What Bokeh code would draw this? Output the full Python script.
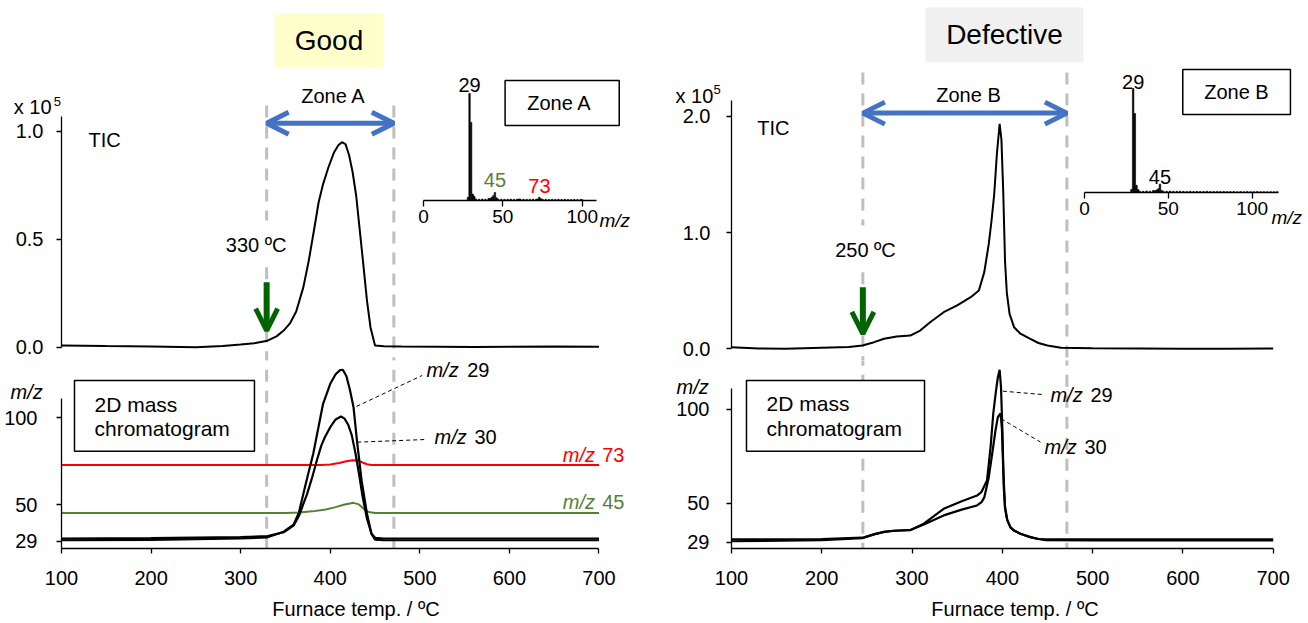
from bokeh.plotting import figure
from bokeh.models import (Range1d, FixedTicker, PrintfTickFormatter, Label, BoxAnnotation,
                          Arrow, OpenHead, GridBox)
from bokeh.embed import file_html
from bokeh.resources import INLINE

FONT = "Liberation Sans"
BLUE = "#4472C4"
DKGREEN = "#006400"
DASHC = "#BFBFBF"
RED = "#FF0000"
OLIVE = "#548235"

# ---------------- data: Good sample (left) ----------------
good_tic_temp = [100, 150, 200, 250, 280, 300, 315, 330, 340, 348, 355, 362, 370, 376, 382, 387, 392, 398,
                 404, 409, 413, 417, 421, 425, 429, 433, 437, 441, 445, 450, 460, 480, 520, 560, 600, 650, 700]
good_tic = [0.008, 0.005, 0.003, 0.0, 0.005, 0.012, 0.018, 0.030, 0.050, 0.077, 0.110, 0.165, 0.278, 0.400,
            0.545, 0.670, 0.755, 0.833, 0.900, 0.935, 0.949, 0.940, 0.890, 0.810, 0.700, 0.540, 0.380, 0.216,
            0.090, 0.008, 0.004, 0.003, 0.002, 0.001, 0.002, 0.003, 0.002]

good_mz29_temp = [100, 200, 300, 330, 348, 359, 365, 370, 375, 381, 387, 392, 400, 406, 411, 414, 418, 422,
                  426, 430, 435, 441, 446, 450, 460, 500, 600, 700]
good_mz29 = [29.6, 29.8, 30.6, 31.3, 34.5, 38.5, 45.5, 56.3, 67.0, 79.3, 95.0, 108.0, 119.5, 125.0, 127.4,
             127.6, 124.0, 116.0, 106.0, 86.0, 64.0, 44.8, 33.3, 30.0, 29.6, 29.6, 29.6, 29.6]

good_mz30_temp = [100, 200, 300, 330, 348, 359, 365, 370, 374, 380, 385, 390, 394, 400, 406, 412, 416, 420,
                  424, 428, 432, 436, 441, 446, 450, 460, 500, 600, 700]
good_mz30 = [30.6, 30.8, 31.4, 32.0, 34.2, 38.0, 43.5, 50.5, 56.0, 66.0, 75.4, 84.0, 88.8, 94.6, 99.0, 100.7,
             99.5, 96.0, 90.0, 80.0, 68.0, 55.0, 42.0, 33.5, 31.0, 30.6, 30.6, 30.6, 30.6]

good_mz73_temp = [100, 390, 400, 410, 418, 425, 431, 436, 441, 446, 700]
good_mz73 = [72.8, 72.8, 73.1, 74.0, 75.0, 75.6, 75.4, 74.3, 73.3, 72.8, 72.8]

good_mz45_temp = [100, 350, 365, 380, 395, 405, 415, 426, 432, 437, 443, 450, 700]
good_mz45 = [45.2, 45.2, 45.5, 46.2, 47.3, 48.5, 50.0, 51.1, 50.2, 47.8, 45.8, 45.2, 45.2]

good_ms_mz = [28, 29, 30, 31, 32, 33, 35, 37, 39, 41, 42, 43, 44, 45, 46, 47, 49, 51, 53, 55, 57, 59, 60, 61,
              63, 65, 67, 69, 71, 72, 73, 74, 75, 77, 79, 81, 83, 85, 87, 89, 91, 93, 95, 97, 99, 100]
good_ms_int = [0.03, 1.0, 0.73, 0.06, 0.04, 0.015, 0.012, 0.014, 0.012, 0.018, 0.02, 0.03, 0.045, 0.075,
               0.025, 0.014, 0.012, 0.011, 0.012, 0.013, 0.011, 0.012, 0.015, 0.013, 0.012, 0.011, 0.012,
               0.013, 0.012, 0.015, 0.03, 0.016, 0.012, 0.011, 0.01, 0.011, 0.01, 0.012, 0.01, 0.011, 0.01,
               0.009, 0.01, 0.009, 0.01, 0.008]

# ---------------- data: Defective sample (right) ----------------
bad_tic_temp = [100, 130, 160, 200, 230, 245, 258, 269, 283, 298, 309, 320, 335, 350, 365, 374, 380, 385, 388,
                391, 394, 397, 399, 401, 403, 405, 408, 413, 420, 431, 440, 450, 465, 500, 550, 600, 650, 700]
bad_tic = [0.014, 0.002, 0.0, 0.009, 0.015, 0.028, 0.057, 0.086, 0.106, 0.114, 0.157, 0.229, 0.315, 0.373,
           0.444, 0.502, 0.660, 0.904, 1.100, 1.330, 1.680, 1.936, 1.800, 1.350, 0.750, 0.480, 0.300, 0.186,
           0.130, 0.086, 0.050, 0.028, 0.009, 0.005, 0.003, 0.0, 0.0, 0.003]

bad_mz29_temp = [100, 200, 245, 258, 269, 280, 298, 313, 335, 355, 372, 377, 383, 387, 390, 393, 395, 397,
                 398.5, 400, 401.6, 403, 405.4, 409, 413, 420, 431, 440, 448, 500, 600, 700]
bad_mz29 = [29.6, 30.2, 31.2, 33.2, 34.6, 35.2, 35.5, 39.0, 46.9, 51.0, 54.0, 56.0, 62.0, 80.0, 98.0, 110.0,
            117.0, 121.1, 112.0, 90.0, 58.0, 47.0, 41.0, 37.0, 35.3, 33.6, 31.8, 30.8, 30.2, 30.0, 30.0, 30.0]

bad_mz30_temp = [100, 200, 245, 258, 269, 280, 298, 313, 335, 355, 372, 377, 380, 385, 389, 392.4, 395, 398,
                 399.5, 401, 403, 405.4, 409, 413, 420, 431, 440, 448, 500, 600, 700]
bad_mz30 = [30.6, 30.8, 31.5, 33.4, 34.6, 35.2, 35.6, 38.5, 43.4, 46.5, 48.7, 50.5, 53.0, 63.8, 77.0, 88.7,
            95.8, 97.9, 90.0, 68.0, 48.0, 41.0, 37.0, 35.3, 33.6, 31.8, 30.8, 30.6, 30.6, 30.6, 30.6]

bad_ms_mz = [28, 29, 30, 31, 32, 33, 35, 37, 39, 41, 42, 43, 44, 45, 46, 47, 49, 51, 53, 55, 57, 59, 61, 63,
             65, 67, 69, 71, 73, 75, 77, 79, 81, 83, 85, 87, 89, 91, 93, 95, 97, 99, 101, 103, 105, 107, 109,
             111, 113, 115]
bad_ms_int = [0.03, 1.0, 0.76, 0.07, 0.03, 0.012, 0.012, 0.015, 0.013, 0.02, 0.018, 0.025, 0.035, 0.08, 0.02,
              0.013, 0.012, 0.014, 0.011, 0.012, 0.012, 0.011, 0.01, 0.012, 0.01, 0.011, 0.01, 0.01, 0.012,
              0.01, 0.009, 0.01, 0.009, 0.01, 0.009, 0.009, 0.01, 0.008, 0.009, 0.008, 0.009, 0.008, 0.008,
              0.009, 0.008, 0.008, 0.007, 0.008, 0.007, 0.008]

temp_ticks = [100, 200, 300, 400, 500, 600, 700]
mz_ticks = [29, 50, 100]
ms_ticks = [0, 50, 100]


# ---------------- helpers ----------------
def base_fig(w, h, xr, yr, mbl, mbr, mbt, mbb, xloc="below", yloc="left"):
    p = figure(width=w, height=h, x_range=xr, y_range=yr, output_backend="svg",
               toolbar_location=None, x_axis_location=xloc, y_axis_location=yloc,
               min_border_left=mbl, min_border_right=mbr, min_border_top=mbt, min_border_bottom=mbb)
    p.grid.visible = False
    p.outline_line_color = None
    p.background_fill_alpha = 0
    p.border_fill_alpha = 0
    return p


def style_axis(axes, size="20px", standoff=12, tick_out=5):
    for ax in axes:
        ax.axis_line_color = "black"
        ax.axis_line_width = 1.3
        ax.major_tick_line_color = "black"
        ax.major_tick_line_width = 1.3
        ax.major_tick_out = tick_out
        ax.major_tick_in = 0
        ax.minor_tick_line_color = None
        ax.major_label_text_font = FONT
        ax.major_label_text_font_size = size
        ax.major_label_text_color = "black"
        ax.major_label_standoff = standoff


def label(p, x, y, text, size="20px", align="left", color="black", style="normal"):
    p.add_layout(Label(x=x, y=y, text=text, text_font=FONT, text_font_size=size,
                       text_align=align, text_baseline="middle", text_color=color,
                       text_font_style=style))


def box(p, l, r, t, b, fill, line="black"):
    p.add_layout(BoxAnnotation(left=l, right=r, top=t, bottom=b, fill_color=fill, fill_alpha=1.0,
                               line_color=line, line_width=1.5, line_alpha=1.0 if line else 0))


def mz_label(p, x_it, x_num, y, num, color="black"):
    label(p, x_it, y, "m/z", color=color, style="italic")
    label(p, x_num, y, num, color=color)


def tic_fig(w, xr, yr, mbl, ymax, ticks, standoff):
    p = base_fig(w, 360, xr, yr, mbl, 10, 0, 0, xloc=None)
    style_axis(p.yaxis, standoff=standoff)
    p.yaxis.ticker = FixedTicker(ticks=ticks)
    p.yaxis.formatter = PrintfTickFormatter(format="%.1f")
    p.yaxis.bounds = (0, ymax)
    return p


def mz_fig(w, xr, yr, mbl, standoff):
    p = base_fig(w, 263, xr, yr, mbl, 10, 0, 75)
    style_axis(p.yaxis, standoff=standoff)
    style_axis(p.xaxis, standoff=17)
    p.yaxis.ticker = FixedTicker(ticks=mz_ticks)
    p.yaxis.bounds = (yr.start, 111)
    p.xaxis.ticker = FixedTicker(ticks=temp_ticks)
    p.xaxis.bounds = (100, 700)
    p.xaxis.axis_label = "Furnace temp. / ºC"
    p.xaxis.axis_label_text_font = FONT
    p.xaxis.axis_label_text_font_size = "20px"
    p.xaxis.axis_label_text_font_style = "normal"
    p.xaxis.axis_label_text_color = "black"
    p.xaxis.axis_label_standoff = 10
    return p


def inset_fig(w, xr, yr, mbl, mbr, mbb, xmax, mz, inten):
    p = base_fig(w, 175, xr, yr, mbl, mbr, 0, mbb, yloc=None)
    p.frame_align = False
    style_axis(p.xaxis, size="19px", standoff=3, tick_out=6)
    p.xaxis.ticker = FixedTicker(ticks=ms_ticks)
    p.xaxis.bounds = (0, xmax)
    p.vbar(x=mz, top=inten, width=0.9, color="black", line_width=0.6)
    return p


def zone_arrow(p, x0, x1, y):
    p.add_layout(Arrow(start=OpenHead(size=22, line_color=BLUE, line_width=5),
                       end=OpenHead(size=22, line_color=BLUE, line_width=5),
                       x_start=x0, y_start=y, x_end=x1, y_end=y, line_color=BLUE, line_width=5))


def onset_arrow(p, x, y0, y1):
    p.add_layout(Arrow(end=OpenHead(size=22, line_color=DKGREEN, line_width=5),
                       x_start=x, y_start=y0, x_end=x, y_end=y1, line_color=DKGREEN, line_width=6))


# ---------------- LEFT (Good) ----------------
xr_l = Range1d(100, 757.5)
tic_l = tic_fig(660, xr_l, Range1d(-0.0616, 1.605), 61, 1.07, [0, 0.5, 1.0], 13)
tic_l.segment(x0=[329, 329, 471], y0=[1.119, 0.370, 1.119], x1=[329, 329, 471], y1=[0.587, -0.2, -0.2],
              line_color=DASHC, line_width=3, line_dash="12 9")
tic_l.line(good_tic_temp, good_tic, line_color="black", line_width=2)
box(tic_l, 337.8, 459.4, 1.545, 1.295, "#FFFFCC", line=None)
label(tic_l, 398.6, 1.42, "Good", size="28px", align="center")
zone_arrow(tic_l, 329, 471, 1.037)
label(tic_l, 403.6, 1.165, "Zone A", align="center")
onset_arrow(tic_l, 329, 0.301, 0.077)
label(tic_l, 317.3, 0.474, "330 ºC", align="center")
label(tic_l, 130.1, 0.960, "TIC")

mz_l = mz_fig(660, xr_l, Range1d(24.86, 132.9), 61, 19)
mz_l.segment(x0=[329, 471], y0=[0, 0], x1=[329, 471], y1=[200, 200],
             line_color=DASHC, line_width=3, line_dash="12 9")
mz_l.line(good_mz45_temp, good_mz45, line_color=OLIVE, line_width=2)
mz_l.line(good_mz73_temp, good_mz73, line_color=RED, line_width=2)
mz_l.line(good_mz30_temp, good_mz30, line_color="black", line_width=2.2)
mz_l.line(good_mz29_temp, good_mz29, line_color="black", line_width=2.2)
mz_l.segment(x0=[429.3, 430.1], y0=[106.5, 85.95], x1=[502.6, 506.3], y1=[124.3, 87.5],
             line_color="black", line_width=1, line_dash="4 3")
mz_label(mz_l, 507.4, 552.9, 127.2, "29")
mz_label(mz_l, 516.4, 561.0, 88.8, "30")
mz_label(mz_l, 659.6, 703.6, 78.7, "73", color=RED)
mz_label(mz_l, 659.6, 703.6, 51.5, "45", color=OLIVE)
box(mz_l, 114.5, 315.4, 121.4, 80.8, "white")
label(mz_l, 136.8, 107.6, "2D mass", size="21px")
label(mz_l, 136.8, 93.7, "chromatogram", size="21px")

ins_l = inset_fig(255, Range1d(0, 143.0), Range1d(0, 1.3084), 18, 10, 35, 108.8, good_ms_mz, good_ms_int)
label(ins_l, 29, 1.075, "29", align="center")
label(ins_l, 45, 0.187, "45", align="center", color=OLIVE)
label(ins_l, 73, 0.140, "73", align="center", color=RED)
box(ins_l, 51.4, 123.3, 1.121, 0.701, "white")
label(ins_l, 87.4, 0.911, "Zone  A", align="center")

# ---------------- RIGHT (Defective) ----------------
xr_r = Range1d(100, 728.05)
tic_r = tic_fig(648, xr_r, Range1d(-0.1007, 2.997), 71, 2.14, [0, 1.0, 2.0], 16)
tic_r.segment(x0=[245.5, 245.5, 471.5], y0=[2.378, 0.659, 2.378], x1=[245.5, 245.5, 471.5],
              y1=[1.061, -0.3, -0.3], line_color=DASHC, line_width=3, line_dash="12 9")
tic_r.line(bad_tic_temp, bad_tic, line_color="black", line_width=2)
box(tic_r, 314.9, 489.6, 2.937, 2.466, "#F0F0F0", line=None)
label(tic_r, 402.4, 2.705, "Defective", size="28px", align="center")
zone_arrow(tic_r, 245.5, 471.5, 2.028)
label(tic_r, 362.5, 2.18, "Zone B", align="center")
onset_arrow(tic_r, 245.5, 0.530, 0.129)
label(tic_r, 248.4, 0.846, "250 ºC", align="center")
label(tic_r, 128.5, 1.899, "TIC")

mz_r = mz_fig(648, xr_r, Range1d(25.74, 126.06), 71, 17)
mz_r.segment(x0=[245.5, 471.5], y0=[0, 0], x1=[245.5, 471.5], y1=[200, 200],
             line_color=DASHC, line_width=3, line_dash="12 9")
mz_r.line(bad_mz30_temp, bad_mz30, line_color="black", line_width=2.2)
mz_r.line(bad_mz29_temp, bad_mz29, line_color="black", line_width=2.2)
mz_r.segment(x0=[400.5, 398.7], y0=[109.7, 95.0], x1=[444.2, 442.3], y1=[107.9, 82.5],
             line_color="black", line_width=1, line_dash="4 3")
mz_label(mz_r, 453.3, 497.6, 107.9, "29")
mz_label(mz_r, 446.7, 491.0, 79.8, "30")
box(mz_r, 116.6, 313.8, 115.4, 77.7, "white")
label(mz_r, 138.8, 103.0, "2D mass", size="21px")
label(mz_r, 138.8, 89.6, "chromatogram", size="21px")

ins_r = inset_fig(248, Range1d(0, 128.8), Range1d(0, 1.269), 24, 8, 43, 115.9, bad_ms_mz, bad_ms_int)
label(ins_r, 29, 1.063, "29", align="center")
label(ins_r, 45, 0.15, "45", align="center")
box(ins_r, 58.6, 122.8, 1.183, 0.75, "white")
label(ins_r, 90.6, 0.964, "Zone B", align="center")

# ---------------- overlay for texts that sit outside the plot frames (page pixels) ----------------
ov = base_fig(1308, 623, Range1d(0, 1308), Range1d(623, 0), 0, 0, 0, 0, xloc=None, yloc=None)
ov.frame_align = False
label(ov, 13.3, 106, "x 10")
label(ov, 53.3, 100.7, "5", size="13px")
label(ov, 675, 95, "x 10")
label(ov, 713, 89, "5", size="13px")
label(ov, 10, 391.7, "m/z", style="italic")
label(ov, 676, 386.7, "m/z", style="italic")
label(ov, 599, 220, "m/z", size="19px", style="italic")
label(ov, 1271, 216.7, "m/z", size="19px", style="italic")

grid = GridBox(children=[(tic_l, 0, 0, 3, 2), (mz_l, 3, 0, 1, 2), (tic_r, 0, 2, 3, 2), (mz_r, 3, 2, 1, 2),
                         (ins_l, 1, 1, 1, 1), (ins_r, 1, 3, 1, 1), (ov, 0, 0, 4, 4)],
               rows=["60px", "175px", "125px", "263px"],
               cols=["405px", "255px", "400px", "248px"],
               spacing=0)

open("out.html", "w").write(file_html(grid, INLINE, title="TIC and 2D mass chromatograms"))
